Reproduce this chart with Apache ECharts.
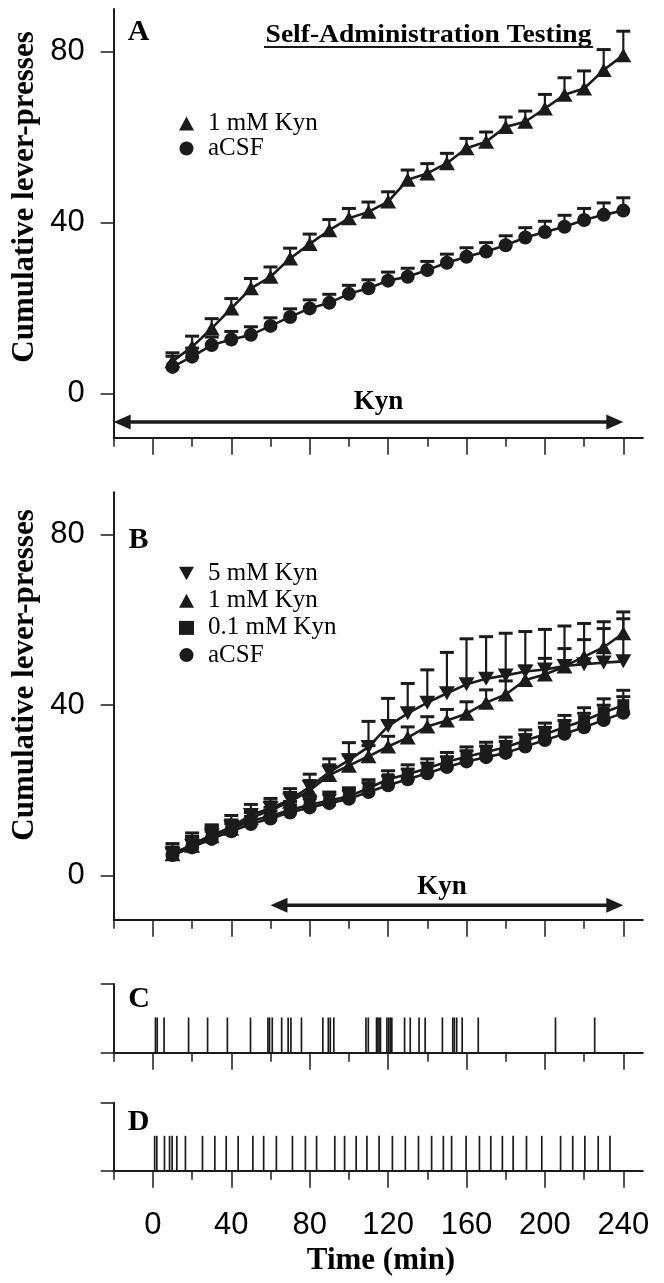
<!DOCTYPE html>
<html>
<head>
<meta charset="utf-8">
<script src="https://cdn.jsdelivr.net/npm/echarts@6/dist/echarts.min.js"></script>
<style>
  html, body { margin: 0; padding: 0; background: #ffffff; }
  #chart { width: 664px; height: 1283px; }
</style>
</head>
<body>
<div id="chart"></div>
<script>
// Sampling times (min) of the cumulative lever-press curves
const times = [10, 20, 30, 40, 50, 60, 70, 80, 90, 100, 110, 120,
               130, 140, 150, 160, 170, 180, 190, 200, 210, 220, 230, 240];

// Panel A: Kyn present for the whole session
const aKyn1    = [7.5, 10.9, 15.2, 19.9, 24.6, 27.3, 31.6, 35.0, 38.2, 41.0, 42.5, 44.9,
                  50.0, 51.5, 53.9, 57.4, 58.9, 62.4, 63.6, 66.7, 69.9, 71.4, 75.7, 79.2];
const aKyn1Sem = [2.0, 2.5, 2.3, 2.3, 2.3, 2.3, 2.4, 2.3, 2.5, 2.3, 2.3, 2.3,
                  2.3, 2.3, 2.3, 2.3, 2.3, 2.3, 2.5, 3.3, 4.0, 4.1, 4.8, 5.6];
const aCsf     = [6.2, 8.6, 11.3, 12.6, 13.7, 15.8, 17.9, 19.9, 21.2, 23.3, 24.6, 26.4,
                  27.3, 28.9, 30.6, 32.0, 33.2, 34.7, 36.5, 37.8, 39.0, 40.6, 41.8, 42.8];
const aCsfSem  = [2.5, 2.0, 1.9, 1.9, 1.9, 1.9, 1.9, 2.0, 2.0, 2.0, 2.0, 2.0,
                  2.0, 2.0, 2.0, 2.1, 2.1, 2.2, 2.3, 2.5, 2.7, 2.7, 2.8, 3.0];

// Panel B: Kyn introduced at 60 min
const bKyn5     = [5.0, 7.0, 9.4, 11.4, 14.2, 15.8, 17.8, 20.8, 24.3, 27.1, 30.2, 35.1,
                   38.1, 40.6, 42.8, 44.9, 46.2, 47.0, 47.9, 48.4, 49.2, 49.6, 50.0, 50.3];
const bKyn5Sem  = [2.5, 3.0, 2.5, 2.7, 2.5, 2.3, 2.6, 3.0, 3.1, 4.1, 6.0, 6.5,
                   7.0, 7.7, 9.6, 10.7, 9.9, 9.9, 9.4, 9.4, 9.4, 9.6, 9.6, 10.0];
const bKyn1     = [5.0, 7.0, 9.2, 11.0, 13.5, 15.3, 17.3, 20.0, 23.6, 25.8, 28.0, 30.3,
                   32.4, 35.0, 36.4, 38.0, 40.6, 42.5, 45.9, 47.2, 49.1, 51.4, 53.6, 56.9];
const bKyn1Sem  = [1.5, 2.0, 2.0, 2.0, 2.0, 2.0, 2.2, 2.3, 2.4, 2.5, 2.5, 2.4,
                   2.5, 2.3, 2.6, 2.8, 3.0, 3.2, 3.3, 3.8, 4.2, 4.0, 4.4, 5.0];
const bKyn01    = [5.2, 7.2, 9.6, 11.0, 12.8, 14.0, 15.4, 16.6, 17.6, 18.6, 20.5, 22.6,
                   23.8, 25.2, 26.7, 27.9, 29.0, 30.1, 31.7, 33.2, 34.8, 36.4, 38.3, 40.0];
const bKyn01Sem = [1.5, 2.0, 2.0, 2.0, 2.0, 2.0, 2.0, 2.0, 2.0, 2.0, 2.0, 2.0,
                   2.2, 2.2, 2.2, 2.3, 2.3, 2.4, 2.5, 2.6, 2.8, 3.0, 3.2, 3.5];
const bCsf      = [4.8, 6.6, 8.6, 10.4, 12.1, 13.4, 14.8, 16.0, 17.0, 18.0, 19.6, 21.2,
                   22.6, 24.0, 25.5, 26.8, 27.8, 28.8, 30.3, 31.8, 33.3, 34.8, 36.5, 38.2];
const bCsfSem   = [1.5, 1.8, 1.8, 1.8, 1.8, 1.8, 1.8, 2.0, 2.0, 2.0, 2.2, 2.2,
                   2.4, 2.4, 2.4, 2.5, 2.6, 2.7, 2.8, 3.0, 3.1, 3.3, 3.5, 3.8];

// Kyn infusion periods [start, end] (min) and the level the arrow sits at
const kynSpanA = [-20, 240];
const kynSpanB = [60, 240];
const kynLevelA = -6.7;
const kynLevelB = -7.0;

// Panels C and D: individual lever-press times (min)
const pressesC = [1.3, 2.2, 5.7, 18.2, 27.9, 38.0, 49.8, 58.7, 59.5, 60.9, 65.7, 69.0,
                  70.4, 75.8, 86.7, 89.5, 90.5, 92.3, 108.7, 109.9, 114.1, 114.7, 115.4, 116.1,
                  119.4, 120.3, 121.1, 121.9, 128.4, 131.3, 135.8, 138.9, 147.7, 153.0, 153.8, 155.0,
                  157.8, 166.0, 205.4, 225.4];
const pressesD = [0.9, 2.0, 5.9, 8.5, 9.8, 12.2, 16.6, 25.3, 31.6, 37.4, 43.5, 51.0,
                  56.5, 63.0, 71.2, 77.8, 83.5, 92.8, 97.8, 103.7, 109.2, 115.4, 122.2, 128.8,
                  135.5, 142.2, 148.2, 152.4, 159.8, 166.6, 172.4, 178.3, 183.8, 190.6, 198.4, 208.0,
                  214.2, 220.4, 227.2, 233.2];

// Axis ticks and labels
const majorTicks = [0, 40, 80, 120, 160, 200, 240];
const minorTicks = [-20, 20, 60, 100, 140, 180, 220];
const yTicks = [0, 40, 80];
const xMin = -20, xMax = 250;
const yMin = -10.4, yMax = 90;
const rasterMax = 1.95;   // raster rows: a press mark is one unit tall

const ink = '#1b1b1b';
const sans = '"Liberation Sans", Arial, sans-serif';
const serif = '"Liberation Serif", "Times New Roman", serif';
const downTri = 'path://M0,0 L20,0 L10,18 Z';

const chart = echarts.init(document.getElementById('chart'), null, { renderer: 'canvas', width: 664, height: 1283 });

const grids = [
  { left: 113.7, width: 529.2, top: 9.0,    height: 428.8 },
  { left: 113.7, width: 529.2, top: 492.3,  height: 427.5 },
  { left: 113.7, width: 529.2, top: 984.0,  height: 68.7 },
  { left: 113.7, width: 529.2, top: 1102.7, height: 68.0 }
].map(g => Object.assign({ containLabel: false, outerBoundsMode: 'none' }, g));

const xAxes = [];
grids.forEach((g, gi) => {
  const labelled = gi === 3;
  xAxes.push({
    gridIndex: gi, type: 'value', min: xMin, max: xMax, position: 'bottom',
    axisLine: { show: true, onZero: false, lineStyle: { color: ink, width: 2 } },
    axisTick: { show: true, customValues: majorTicks, length: 17, lineStyle: { color: ink, width: 1.5 } },
    axisLabel: labelled
      ? { show: true, customValues: majorTicks, color: '#000', fontFamily: sans, fontSize: 31, margin: 39 }
      : { show: false },
    splitLine: { show: false }
  });
  xAxes.push({
    gridIndex: gi, type: 'value', min: xMin, max: xMax, position: 'bottom',
    axisLine: { show: false, onZero: false },
    axisTick: { show: true, customValues: minorTicks, length: 9, lineStyle: { color: ink, width: 1.5 } },
    axisLabel: { show: false },
    splitLine: { show: false }
  });
});

const yAxes = grids.map((g, gi) => {
  const curve = gi < 2;
  return {
    gridIndex: gi, type: 'value',
    min: curve ? yMin : 0, max: curve ? yMax : rasterMax,
    axisLine: { show: true, onZero: false, lineStyle: { color: ink, width: 2 } },
    axisTick: { show: true, customValues: curve ? yTicks : [0, rasterMax], length: 13, lineStyle: { color: ink, width: 1.5 } },
    axisLabel: curve
      ? { show: true, customValues: yTicks, color: '#000', fontFamily: sans, fontSize: 31, margin: 29 }
      : { show: false },
    splitLine: { show: false }
  };
});

function pairs(vals) { return times.map((t, i) => [t, vals[i]]); }

function curve(name, vals, symbol, size, gi) {
  return {
    type: 'line', name, xAxisIndex: gi * 2, yAxisIndex: gi,
    data: pairs(vals), symbol, symbolSize: size, showSymbol: true,
    lineStyle: { color: ink, width: 2.6 }, itemStyle: { color: ink, borderWidth: 0 },
    emphasis: { disabled: true }, silent: true, animation: false, z: 4
  };
}

function errorBars(vals, sems, gi) {
  return {
    type: 'custom', xAxisIndex: gi * 2, yAxisIndex: gi,
    data: times.map((t, i) => [t, vals[i], vals[i] + sems[i]]),
    encode: { x: 0, y: [1, 2] },
    renderItem(params, api) {
      const p0 = api.coord([api.value(0), api.value(1)]);
      const p1 = api.coord([api.value(0), api.value(2)]);
      return {
        type: 'group', children: [
          { type: 'line', shape: { x1: p0[0], y1: p0[1], x2: p1[0], y2: p1[1] }, style: { stroke: ink, lineWidth: 2.2 } },
          { type: 'line', shape: { x1: p1[0] - 7, y1: p1[1], x2: p1[0] + 7, y2: p1[1] }, style: { stroke: ink, lineWidth: 3 } }
        ]
      };
    },
    silent: true, animation: false, z: 3
  };
}

function raster(presses, gi) {
  return {
    type: 'custom', xAxisIndex: gi * 2, yAxisIndex: gi,
    data: presses.map(t => [t, 1]),
    encode: { x: 0, y: 1 },
    renderItem(params, api) {
      const a = api.coord([api.value(0), 0]);
      const b = api.coord([api.value(0), api.value(1)]);
      return { type: 'line', shape: { x1: a[0], y1: a[1], x2: b[0], y2: b[1] }, style: { stroke: ink, lineWidth: 1.7 } };
    },
    silent: true, animation: false, z: 3
  };
}

function kynArrow(span, level, gi) {
  return {
    type: 'custom', xAxisIndex: gi * 2, yAxisIndex: gi,
    data: [[span[0], span[1], level]],
    encode: { x: [0, 1], y: 2 },
    renderItem(params, api) {
      const p0 = api.coord([api.value(0), api.value(2)]);
      const p1 = api.coord([api.value(1), api.value(2)]);
      const L = 17, H = 7.5, y = p0[1];
      return {
        type: 'group', children: [
          { type: 'line', shape: { x1: p0[0] + L - 2, y1: y, x2: p1[0] - L + 2, y2: y }, style: { stroke: ink, lineWidth: 3.6 } },
          { type: 'polygon', shape: { points: [[p0[0], y], [p0[0] + L, y - H], [p0[0] + L, y + H]] }, style: { fill: ink } },
          { type: 'polygon', shape: { points: [[p1[0], y], [p1[0] - L, y - H], [p1[0] - L, y + H]] }, style: { fill: ink } }
        ]
      };
    },
    silent: true, animation: false, z: 3
  };
}

function label(text, x, y, font, extra) {
  return Object.assign({
    type: 'text', x, y, silent: true,
    style: { text, font, fill: '#000', align: 'center', verticalAlign: 'middle' }
  }, extra || {});
}

const legendText = { fontFamily: serif, fontSize: 25, lineHeight: 25, color: '#000', padding: [0, 0, 0, 9] };

const option = {
  animation: false,
  backgroundColor: '#ffffff',
  grid: grids,
  xAxis: xAxes,
  yAxis: yAxes,
  legend: [
    {
      left: 179, top: 111, orient: 'vertical', padding: 0, itemGap: 0,
      itemWidth: 15, itemHeight: 14, selectedMode: false, textStyle: legendText,
      data: [{ name: '1 mM Kyn', icon: 'triangle' }, { name: 'aCSF', icon: 'circle' }]
    },
    {
      left: 179, top: 561, orient: 'vertical', padding: 0, itemGap: 2.2,
      itemWidth: 15, itemHeight: 14, selectedMode: false, textStyle: legendText,
      data: [{ name: '5 mM Kyn', icon: downTri }, { name: '1 mM Kyn', icon: 'triangle' },
             { name: '0.1 mM Kyn', icon: 'rect' }, { name: 'aCSF', icon: 'circle' }]
    }
  ],
  series: [
    errorBars(aCsf, aCsfSem, 0),
    errorBars(aKyn1, aKyn1Sem, 0),
    curve('aCSF', aCsf, 'circle', 14, 0),
    curve('1 mM Kyn', aKyn1, 'triangle', [16, 14], 0),
    kynArrow(kynSpanA, kynLevelA, 0),

    errorBars(bCsf, bCsfSem, 1),
    errorBars(bKyn01, bKyn01Sem, 1),
    errorBars(bKyn1, bKyn1Sem, 1),
    errorBars(bKyn5, bKyn5Sem, 1),
    curve('aCSF', bCsf, 'circle', 14, 1),
    curve('0.1 mM Kyn', bKyn01, 'rect', 12, 1),
    curve('1 mM Kyn', bKyn1, 'triangle', [16, 14], 1),
    curve('5 mM Kyn', bKyn5, downTri, [16, 14], 1),
    kynArrow(kynSpanB, kynLevelB, 1),

    raster(pressesC, 2),
    raster(pressesD, 3)
  ],
  graphic: [
    label('A', 138.5, 32.5, 'bold 30px ' + serif),
    label('B', 138.5, 540, 'bold 30px ' + serif),
    label('C', 139, 999, 'bold 30px ' + serif),
    label('D', 138.5, 1122.5, 'bold 30px ' + serif),
    label('Self-Administration Testing', 428.5, 35.5, 'bold 26px ' + serif, { scaleX: 1.06 }),
    { type: 'line', silent: true, shape: { x1: 264, y1: 47, x2: 593, y2: 47 }, style: { stroke: ink, lineWidth: 2.2 } },
    label('Kyn', 378.6, 402.5, 'bold 27px ' + serif),
    label('Kyn', 442, 886.7, 'bold 27px ' + serif),
    label('Cumulative lever-presses', 25, 197, 'bold 31px ' + serif, { rotation: Math.PI / 2 }),
    label('Cumulative lever-presses', 25, 675, 'bold 31px ' + serif, { rotation: Math.PI / 2 }),
    label('Time (min)', 381, 1261, 'bold 31px ' + serif)
  ]
};

chart.setOption(option);
</script>
</body>
</html>
